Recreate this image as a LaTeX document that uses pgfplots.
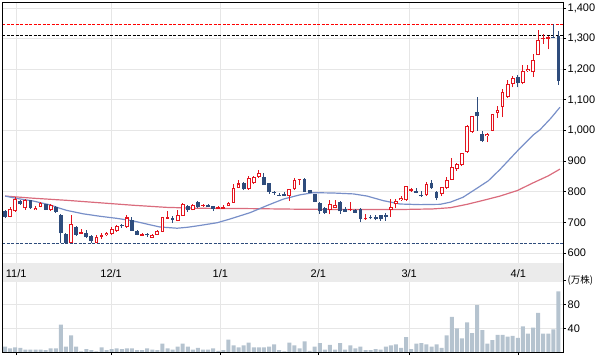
\documentclass[border=0pt]{standalone}
\usepackage{pgfplots}
\usepackage{pgfplotstable}
\pgfplotsset{compat=1.18}
\usepackage{fontspec}
\setmainfont{Liberation Sans}
\newfontfamily\cjk{Noto Sans CJK JP}
\definecolor{upred}{RGB}{228,20,30}
\definecolor{dnblue}{RGB}{46,76,124}
\definecolor{maone}{RGB}{120,143,200}
\definecolor{matwo}{RGB}{218,108,125}
\definecolor{volc}{RGB}{181,195,207}
\definecolor{gridc}{RGB}{230,230,230}
\definecolor{bandc}{RGB}{235,235,235}

\pgfplotstableread{
i o h l c
1 718 751 716 745
2 737 783 735 777
4 746 775 742 772
6 741 752 740 748
7 751 768 749 762
9 742 761 738 758
13 634 723 633 696
15 663 680 662 668
18 634 659 633 653
19 653 666 647 658
20 658 670 655 665
21 663 684 660 680
22 672 693 669 688
24 686 725 683 716
27 656 664 655 662
29 650 662 650 659
30 659 674 659 672
31 670 718 668 718
32 712 736 711 717
34 704 742 703 723
35 722 762 721 761
37 740 760 739 758
39 753 761 750 757
42 745 755 744 749
43 745 758 744 751
44 754 768 753 762
45 764 824 763 813
46 812 840 811 827
48 808 853 807 846
49 827 853 826 849
50 849 870 846 861
56 786 810 770 810
57 808 846 805 840
58 838 843 822 842
64 739 772 726 761
65 747 772 746 757
68 739 768 737 743
71 710 728 709 715
76 741 778 717 749
77 760 778 747 771
78 772 785 770 781
79 772 820 770 818
80 803 811 800 808
83 788 832 786 824
86 793 816 786 816
87 813 848 810 840
88 840 911 838 882
89 873 894 868 891
90 887 927 884 925
91 930 1018 927 1015
92 995 1048 993 1046
95 982 991 962 990
96 1000 1055 998 1054
97 1057 1081 1041 1068
98 1076 1135 1044 1127
99 1111 1165 1106 1151
100 1152 1178 1141 1173
102 1156 1214 1151 1194
103 1194 1214 1192 1201
104 1190 1251 1176 1230
105 1246 1327 1245 1297
106 1298 1316 1284 1302
107 1300 1309 1265 1305
}\up

\pgfplotstableread{
i o h l c
0 737 739 714 718
3 770 772 757 759
5 772 773 745 746
8 759 761 740 741
10 750 752 732 735
11 725 726 634 664
12 663 665 632 634
14 686 689 656 660
16 666 674 648 652
17 654 658 633 639
23 693 695 681 687
25 707 719 672 672
26 673 675 658 659
28 661 666 652 658
33 714 720 699 709
36 753 757 734 740
38 768 770 748 751
40 758 760 749 750
41 752 754 737 745
47 827 833 805 808
51 849 860 822 822
52 827 828 793 800
53 800 804 791 797
54 791 797 786 786
55 793 798 786 786
59 843 845 800 800
60 805 807 797 797
61 793 794 766 766
62 764 766 728 737
63 746 750 728 732
66 766 769 728 736
67 745 751 735 735
69 740 744 730 732
70 745 746 701 712
72 718 723 710 713
73 717 723 707 712
74 723 724 706 710
75 724 732 706 718
81 801 812 795 797
82 789 802 783 785
84 829 837 810 813
85 799 802 772 780
93 1060 1108 1000 1046
94 987 1000 962 965
101 1174 1181 1141 1156
108 1305 1347 1302 1303
109 1308 1324 1149 1162
}\dn

\pgfplotstableread{
i v
0 9
1 6
2 8
3 7
4 4
5 4
6 4
7 4
8 3
9 6
10 6
11 46
12 9
13 28
14 9
15 1
16 5
17 3
18 1
19 8
20 3
21 5
22 6
23 5
24 6
25 6
26 3
27 3
28 6
29 4
30 3
31 14
32 6
33 4
34 9
35 14
36 9
37 4
38 7
39 4
40 4
41 6
42 2
43 3
44 21
45 11
46 8
47 11
48 16
49 8
50 8
51 8
52 9
53 13
54 3
55 1
56 16
57 11
58 6
59 18
60 2
61 9
62 15
63 4
64 12
65 4
66 15
67 4
68 11
69 6
70 9
71 3
72 3
73 5
74 4
75 9
76 11
77 13
78 7
79 25
80 5
81 14
82 15
83 13
84 9
85 13
86 7
87 28
88 59
89 40
90 23
91 50
92 32
93 79
94 37
95 14
96 20
97 29
98 29
99 26
100 27
101 24
102 43
103 31
104 41
105 66
106 31
107 31
108 38
109 102
}\vol

\pgfplotsset{
  candle/.style 2 args={draw=none, mark=none, forget plot,
    error bars/.cd, y dir=plus, y explicit, error mark=none,
    error bar style={draw=#1, line width=#2}},
}

\begin{document}
\begin{tikzpicture}
\path[use as bounding box] (0,0) rectangle (606bp,-357bp);

\begin{axis}[
  at={(2bp,-2bp)}, anchor=north west, scale only axis,
  width=561bp, height=261bp,
  xmin=-0.6, xmax=109.9, ymin=567.4, ymax=1419.6,
  axis line style={draw=none},
  xtick={2.2,20.9,42.4,61.7,79.6,101.1}, xticklabels={},
  major x tick style={draw=none},
  ytick={600,700,...,1400},
  yticklabels={600,700,800,900,{1,000},{1,100},{1,200},{1,300},{1,400}},
  ytick pos=right, yticklabel pos=right,
  tick align=outside, major tick length=3bp,
  major y tick style={black, line width=0.8bp},
  grid=major, grid style={gridc, line width=1bp},
  yticklabel style={font=\fontsize{11bp}{13bp}\selectfont, anchor=west, inner sep=0pt, xshift=1.5bp},
]
\addplot[red, line width=0.9bp, dash pattern=on 3bp off 1.5bp, forget plot] coordinates {(-0.6,1347) (109.9,1347)};
\addplot[black, line width=0.9bp, dash pattern=on 3bp off 1.5bp, forget plot] coordinates {(-0.6,1311) (109.9,1311)};
\addplot[dnblue, line width=0.9bp, dash pattern=on 3bp off 1.5bp, forget plot] coordinates {(-0.6,632) (109.9,632)};

\addplot[matwo, line width=1.2bp, forget plot] coordinates {
(0,786) (5.5,779) (12.2,772) (18.7,764) (25.2,756) (31.9,749) (38.4,746) (48.3,745) (58.1,743) (68.0,742) (77.8,742) (84.3,744) (87.7,748) (91.0,759) (94.2,772) (97.5,786) (100.9,804) (104.0,829) (107,852) (109.3,874)};
\addplot[maone, line width=1.2bp, forget plot] coordinates {
(0,786) (2.4,778) (5.5,770) (8.9,757) (10.8,746) (12.2,739) (15.4,728) (18.7,720) (22.1,713) (25.2,705) (28.6,692) (30.5,685) (33.9,681) (35.9,684) (38.4,690) (41.8,699) (44.3,711) (48.3,732) (51.6,755) (54.8,776) (58.1,790) (60.7,797) (64.6,796) (68.6,793) (71.3,786) (74.5,771) (77.8,760) (81.8,758) (85.7,759) (87.7,766) (90.2,782) (93.0,812) (95.2,836) (97.5,873) (100.9,933) (104.0,985) (105.4,1003) (107.5,1040) (109.3,1076)};

% wicks
\addplot[candle={upred}{1bp}] table[x=i, y=l, y error plus expr=\thisrow{h}-\thisrow{l}] {\up};
\addplot[candle={dnblue}{1bp}] table[x=i, y=l, y error plus expr=\thisrow{h}-\thisrow{l}] {\dn};
% bodies down
\addplot[candle={dnblue}{3.8bp}] table[x=i, y=c, y error plus expr={max(\thisrow{o}-\thisrow{c},1.5)}] {\dn};
% bodies up (hollow)
\addplot[candle={upred}{3.8bp}] table[x=i, y=o, y error plus expr={max(\thisrow{c}-\thisrow{o},1.5)}] {\up};
\addplot[candle={white}{1.8bp}] table[x=i, y expr=\thisrow{o}+3.3, y error plus expr={max(\thisrow{c}-\thisrow{o}-6.6,0)}] {\up};
\end{axis}

\begin{axis}[
  at={(2bp,-263bp)}, anchor=north west, scale only axis,
  width=561bp, height=89bp,
  xmin=-0.6, xmax=109.9, ymin=0, ymax=150,
  axis line style={draw=none},
  xtick={2.2,20.9,42.4,61.7,79.6,101.1}, xticklabels={},
  xtick pos=bottom,
  ytick={40,80,121}, yticklabels={40,80,{\cjk\fontsize{9.5bp}{11bp}\selectfont(万株)}},
  ytick pos=right, yticklabel pos=right,
  tick align=outside, major tick length=3bp,
  major tick style={black, line width=0.8bp},
  grid=major, grid style={gridc, line width=1bp},
  yticklabel style={font=\fontsize{11bp}{13bp}\selectfont, anchor=west, inner sep=0pt, xshift=1.5bp},
]
\addplot[ybar, bar width=4bp, bar shift=0pt, fill=volc, draw=none, forget plot] table[x=i, y=v] {\vol};
\fill[bandc] (rel axis cs:0,0.787) rectangle (rel axis cs:1,1);
\node[font=\fontsize{11bp}{13bp}\selectfont] at (axis cs:2.2,133) {11/1};
\node[font=\fontsize{11bp}{13bp}\selectfont] at (axis cs:20.9,133) {12/1};
\node[font=\fontsize{11bp}{13bp}\selectfont] at (axis cs:42.4,133) {1/1};
\node[font=\fontsize{11bp}{13bp}\selectfont] at (axis cs:61.7,133) {2/1};
\node[font=\fontsize{11bp}{13bp}\selectfont] at (axis cs:79.6,133) {3/1};
\node[font=\fontsize{11bp}{13bp}\selectfont] at (axis cs:101.1,133) {4/1};
\end{axis}

\draw[black, line width=1bp] (2bp,-352bp) -- (2bp,-2bp) -- (563bp,-2bp) -- (563bp,-352bp) -- cycle;
\end{tikzpicture}
\end{document}
